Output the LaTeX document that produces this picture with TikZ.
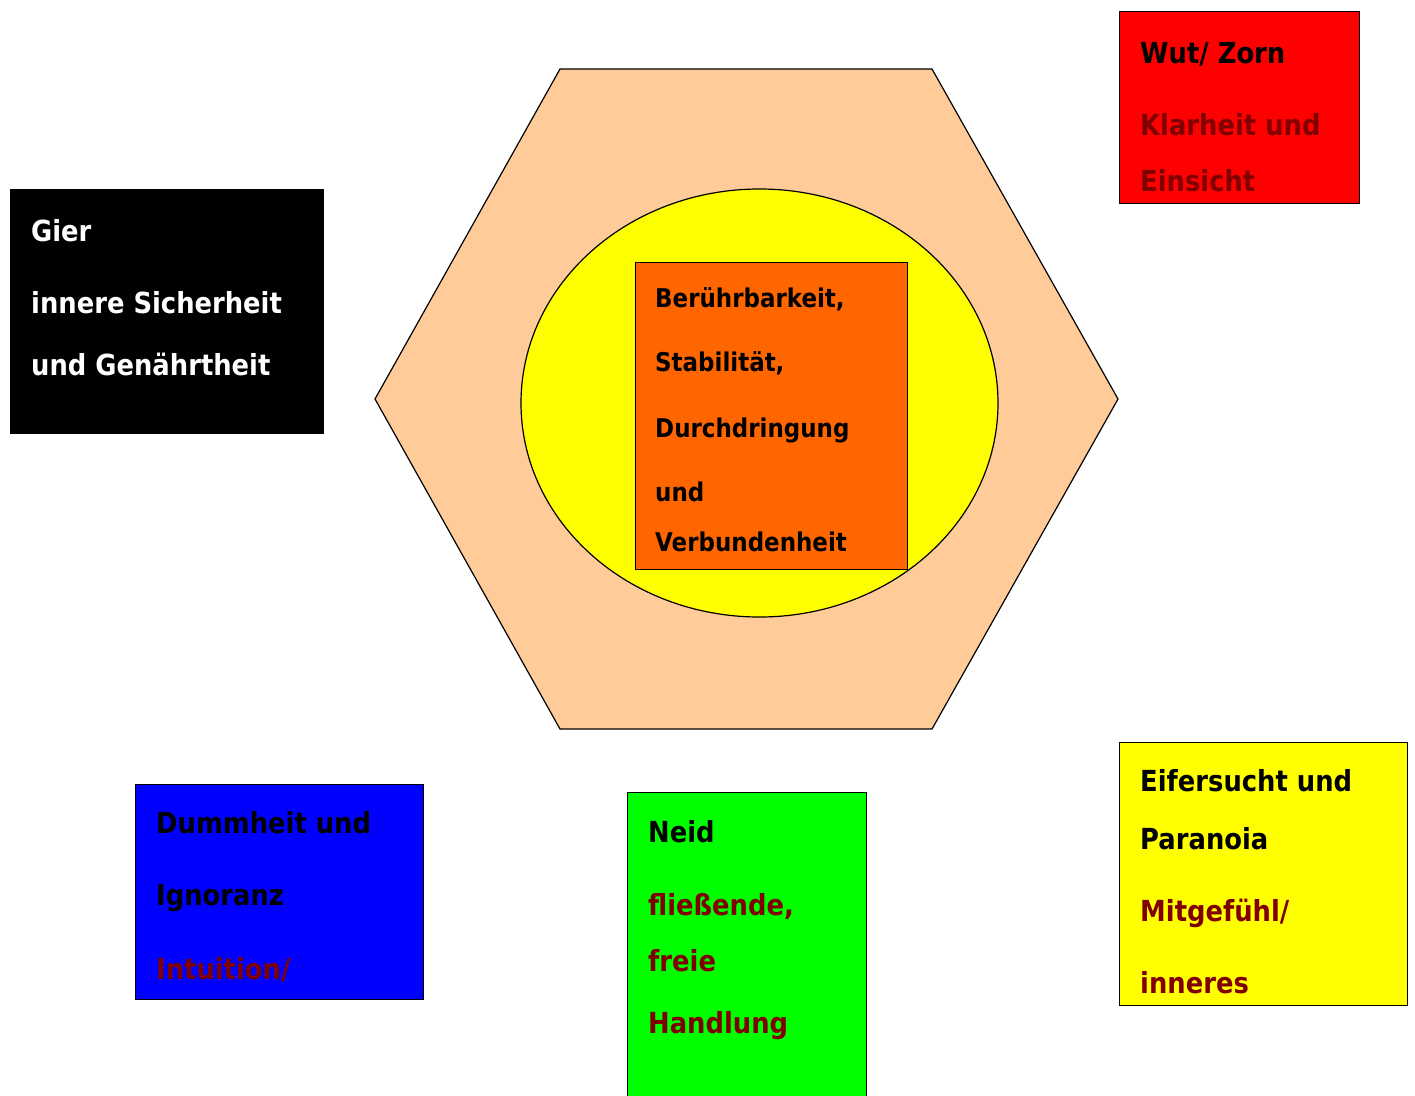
\documentclass[tikz,border=0pt]{standalone}
\usepackage{fontspec}
\setmainfont{DejaVu Sans}[FakeStretch=0.89]
\usetikzlibrary{shapes.geometric}
\definecolor{peach}{HTML}{FFCC99}
\definecolor{orangebox}{HTML}{FF6600}
\definecolor{darkred}{HTML}{800000}
\definecolor{pureblue}{HTML}{0000FF}
\definecolor{puregreen}{HTML}{00FF00}
\definecolor{purered}{HTML}{FF0000}
\definecolor{pureyellow}{HTML}{FFFF00}
\tikzset{
  box/.style={draw=black, line width=1.5pt, anchor=north west, inner sep=0pt, rectangle},
  txt/.style={anchor=base west, inner sep=0pt, font=\fontsize{29}{35}\selectfont\bfseries},
  smalltxt/.style={anchor=base west, inner sep=0pt, font=\fontsize{25.8}{30}\selectfont\bfseries},
}
\begin{document}
\begin{tikzpicture}[x=1pt,y=-1pt]
\useasboundingbox (0,0) rectangle (1415,1095);
\clip (0,0) rectangle (1415,1095);
% hexagon
\draw[fill=peach, line width=1.2pt] (560,69) -- (932,69) -- (1118,399) -- (932,729) -- (560,729) -- (375,399) -- cycle;
% ellipse
\node[ellipse, draw=black, line width=1.2pt, fill=pureyellow, minimum width=477pt, minimum height=428pt, inner sep=0pt] (ell) at (759.5,403) {};
% orange centre
\node[box, fill=orangebox, minimum width=272pt, minimum height=307pt] (core) at (634.5,261.5) {};
\node[smalltxt] (c1) at (655,307) {Berührbarkeit,};
\node[smalltxt] (c2) at (655,371) {Stabilität,};
\node[smalltxt] (c3) at (655,437) {Durchdringung};
\node[smalltxt] (c4) at (655,501) {und};
\node[smalltxt] (c5) at (655,551) {Verbundenheit};
% red box
\node[box, fill=purered, minimum width=240pt, minimum height=192pt] (red) at (1118.5,10.5) {};
\node[txt] (r1) at (1140,63) {Wut/ Zorn};
\node[txt, text=darkred] (r2) at (1140,135) {Klarheit und};
\node[txt, text=darkred] (r3) at (1140,191) {Einsicht};
% black box
\node[box, fill=black, minimum width=313pt, minimum height=244pt] (blk) at (9.5,188.5) {};
\node[txt, text=white] (b1) at (31,241) {Gier};
\node[txt, text=white] (b2) at (31,313) {innere Sicherheit};
\node[txt, text=white] (b3) at (31,375) {und Genährtheit};
% blue box
\node[box, fill=pureblue, minimum width=288pt, minimum height=215pt] (blu) at (134.5,783.5) {};
\node[txt] (u1) at (156,833) {Dummheit und};
\node[txt] (u2) at (156,905) {Ignoranz};
\node[txt, text=darkred] (u3) at (156,979) {Intuition/};
% green box
\node[box, fill=puregreen, minimum width=239pt, minimum height=320pt] (grn) at (626.5,791.5) {};
\node[txt] (g1) at (648,842) {Neid};
\node[txt, text=darkred] (g2) at (648,915) {fließende,};
\node[txt, text=darkred] (g3) at (648,971) {freie};
\node[txt, text=darkred] (g4) at (648,1033) {Handlung};
% yellow box
\node[box, fill=pureyellow, minimum width=288pt, minimum height=263pt] (yel) at (1118.5,741.5) {};
\node[txt] (y1) at (1140,791) {Eifersucht und};
\node[txt] (y2) at (1140,849) {Paranoia};
\node[txt, text=darkred] (y3) at (1140,921) {Mitgefühl/};
\node[txt, text=darkred] (y4) at (1140,993) {inneres};
\end{tikzpicture}
\end{document}
